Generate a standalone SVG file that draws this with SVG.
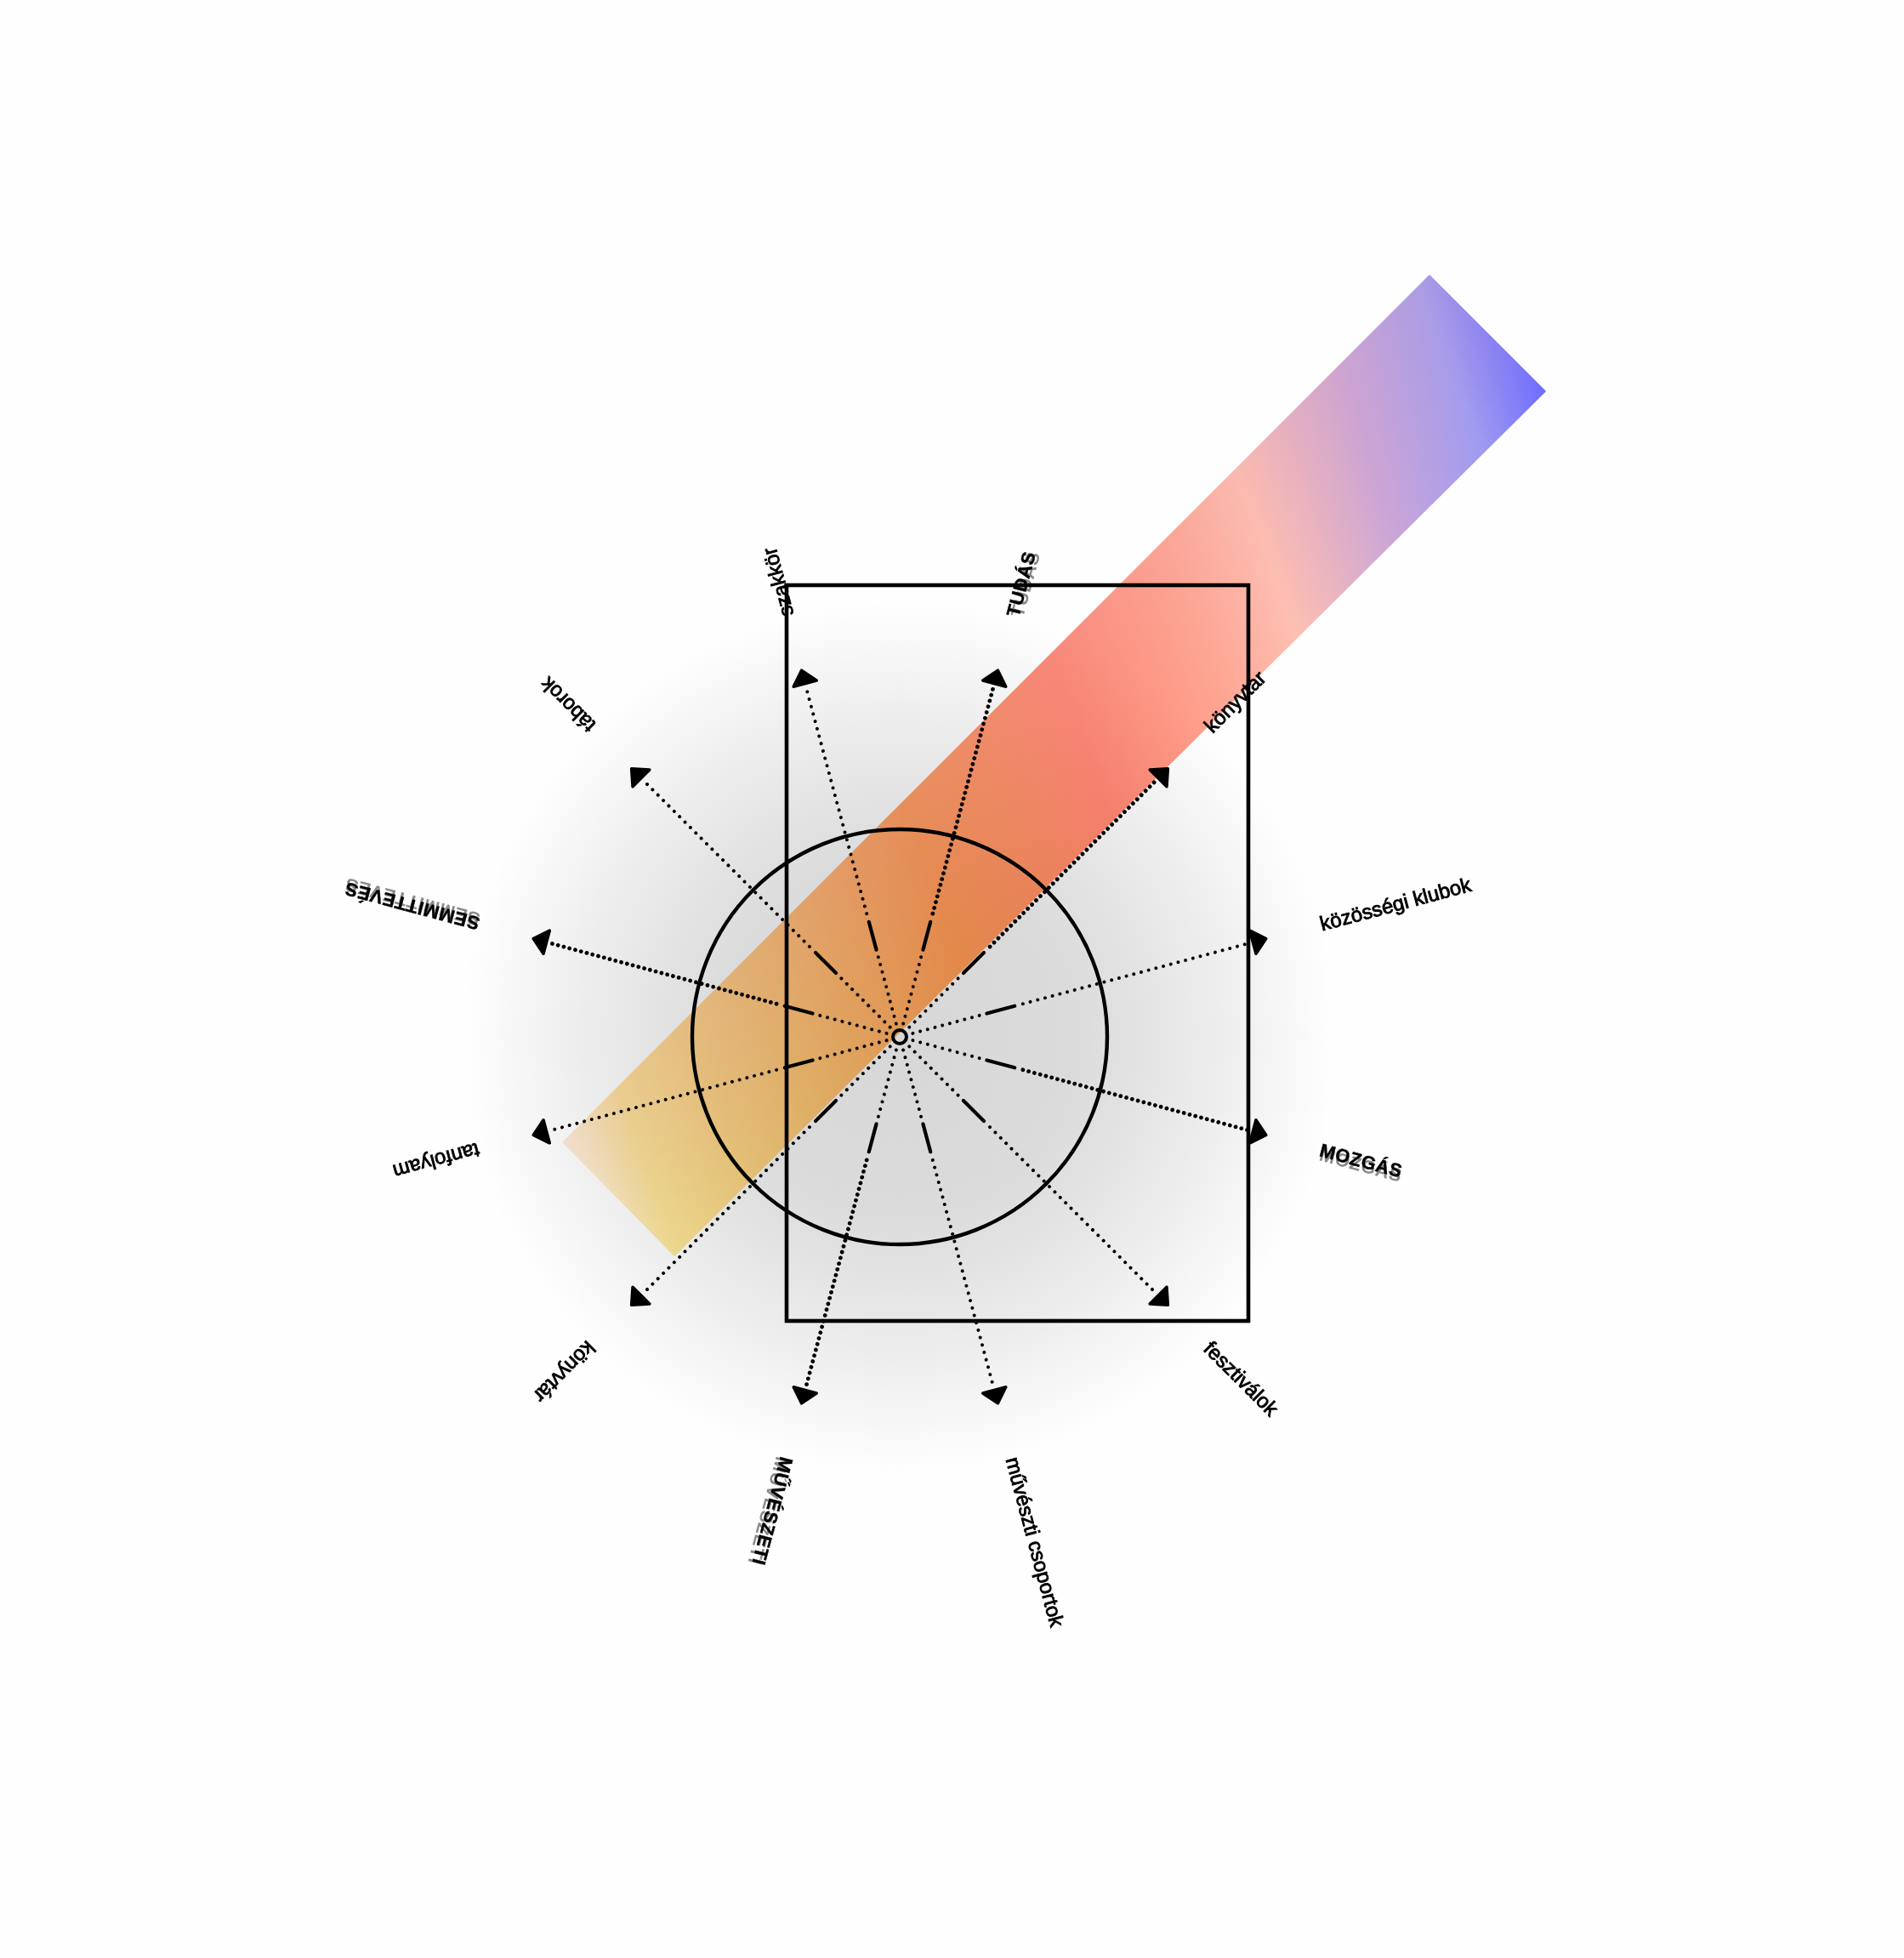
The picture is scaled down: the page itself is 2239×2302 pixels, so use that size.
<svg xmlns="http://www.w3.org/2000/svg" width="2239" height="2302" viewBox="0 0 2239 2302">
<style>
.dot{fill:none;stroke:#000;stroke-width:4;stroke-linecap:round;stroke-dasharray:0 9}
.dotb{stroke-width:4.8;stroke-dasharray:0 7}
.dash{stroke:#000;stroke-width:4.2;stroke-linecap:round}
.head{fill:#000;stroke:#000;stroke-width:3.5;stroke-linejoin:round}
.lbl{font-family:"Liberation Sans",Arial,sans-serif;font-size:24px;fill:#000;stroke:#000;stroke-width:0.9}
.cat{font-weight:bold;font-size:22px;letter-spacing:0.5px;stroke-width:0.4}
.sh{fill:#000;stroke:none;opacity:0.45}
.frame{fill:none;stroke:#000;stroke-width:4.6}
</style>
<defs>
<radialGradient id="bg" cx="1058" cy="1219" r="520" gradientUnits="userSpaceOnUse">
<stop offset="0" stop-color="#d7d7d7"/>
<stop offset="0.4" stop-color="#dbdbdb"/>
<stop offset="0.7" stop-color="#ececec"/>
<stop offset="1" stop-color="#ffffff"/>
</radialGradient>
<linearGradient id="band" gradientUnits="userSpaceOnUse" x1="661" y1="1343" x2="1968" y2="868">
<stop offset="0" stop-color="#f8f2e0"/>
<stop offset="0.06" stop-color="#f5df90"/>
<stop offset="0.22" stop-color="#f0b96a"/>
<stop offset="0.37" stop-color="#f5934f"/>
<stop offset="0.53" stop-color="#fe8470"/>
<stop offset="0.65" stop-color="#ffa592"/>
<stop offset="0.73" stop-color="#ffc0b2"/>
<stop offset="0.84" stop-color="#c9a5d9"/>
<stop offset="0.93" stop-color="#a09cf2"/>
<stop offset="1" stop-color="#6c6cff"/>
</linearGradient>
<linearGradient id="bandtint" gradientUnits="userSpaceOnUse" x1="1235" y1="1042" x2="1099" y2="905">
<stop offset="0" stop-color="#f4a0a0" stop-opacity="0"/>
<stop offset="1" stop-color="#e8a0a8" stop-opacity="0.18"/>
</linearGradient>
<polygon id="bandpoly" points="661,1343 1681,323 1818,460 793,1477"/>
</defs>
<rect x="0" y="0" width="2239" height="2302" fill="#fefefe"/>
<circle id="halo" cx="1058" cy="1219" r="520" fill="url(#bg)"/>
<g id="band-shape">
<use href="#bandpoly" fill="url(#band)" style="mix-blend-mode:multiply"/>
<use href="#bandpoly" fill="url(#band)" opacity="0.5"/>
<use href="#bandpoly" fill="url(#bandtint)"/>
</g>
<g id="frame">
<rect x="925" y="688" width="543" height="865" class="frame"/>
</g>
<g id="ring">
<circle cx="1058" cy="1219" r="244" fill="none" stroke="#000" stroke-width="4.4"/>
</g>
<g id="hub">
<circle cx="1058" cy="1219" r="8" fill="none" stroke="#000" stroke-width="4"/>
</g>
<g id="connectors">
<g transform="translate(1058 1219) rotate(-105)"><line class="dot" x1="16" y1="0" x2="100" y2="0"/><line class="dash" x1="106" y1="0" x2="140" y2="0"/><line class="dot" x1="150" y1="0" x2="428" y2="0"/><polygon class="head" points="430,-14 446,0 430,14"/></g>
<g transform="translate(1058 1219) rotate(-75)"><line class="dot" x1="16" y1="0" x2="100" y2="0"/><line class="dash" x1="106" y1="0" x2="140" y2="0"/><line class="dot dotb" x1="150" y1="0" x2="428" y2="0"/><polygon class="head" points="430,-14 446,0 430,14"/></g>
<g transform="translate(1058 1219) rotate(-45)"><line class="dot" x1="16" y1="0" x2="100" y2="0"/><line class="dash" x1="106" y1="0" x2="140" y2="0"/><line class="dot dotb" x1="150" y1="0" x2="428" y2="0"/><polygon class="head" points="430,-14 446,0 430,14"/></g>
<g transform="translate(1058 1219) rotate(-15)"><line class="dot" x1="16" y1="0" x2="100" y2="0"/><line class="dash" x1="106" y1="0" x2="140" y2="0"/><line class="dot" x1="150" y1="0" x2="428" y2="0"/><polygon class="head" points="430,-14 446,0 430,14"/></g>
<g transform="translate(1058 1219) rotate(15)"><line class="dot" x1="16" y1="0" x2="100" y2="0"/><line class="dash" x1="106" y1="0" x2="140" y2="0"/><line class="dot dotb" x1="150" y1="0" x2="428" y2="0"/><polygon class="head" points="430,-14 446,0 430,14"/></g>
<g transform="translate(1058 1219) rotate(45)"><line class="dot" x1="16" y1="0" x2="100" y2="0"/><line class="dash" x1="106" y1="0" x2="140" y2="0"/><line class="dot" x1="150" y1="0" x2="428" y2="0"/><polygon class="head" points="430,-14 446,0 430,14"/></g>
<g transform="translate(1058 1219) rotate(75)"><line class="dot" x1="16" y1="0" x2="100" y2="0"/><line class="dash" x1="106" y1="0" x2="140" y2="0"/><line class="dot" x1="150" y1="0" x2="428" y2="0"/><polygon class="head" points="430,-14 446,0 430,14"/></g>
<g transform="translate(1058 1219) rotate(105)"><line class="dot" x1="16" y1="0" x2="100" y2="0"/><line class="dash" x1="106" y1="0" x2="140" y2="0"/><line class="dot dotb" x1="150" y1="0" x2="428" y2="0"/><polygon class="head" points="430,-14 446,0 430,14"/></g>
<g transform="translate(1058 1219) rotate(135)"><line class="dot" x1="16" y1="0" x2="100" y2="0"/><line class="dash" x1="106" y1="0" x2="140" y2="0"/><line class="dot" x1="150" y1="0" x2="428" y2="0"/><polygon class="head" points="430,-14 446,0 430,14"/></g>
<g transform="translate(1058 1219) rotate(165)"><line class="dot" x1="16" y1="0" x2="100" y2="0"/><line class="dash" x1="106" y1="0" x2="140" y2="0"/><line class="dot" x1="150" y1="0" x2="428" y2="0"/><polygon class="head" points="430,-14 446,0 430,14"/></g>
<g transform="translate(1058 1219) rotate(195)"><line class="dot" x1="16" y1="0" x2="100" y2="0"/><line class="dash" x1="106" y1="0" x2="140" y2="0"/><line class="dot dotb" x1="150" y1="0" x2="428" y2="0"/><polygon class="head" points="430,-14 446,0 430,14"/></g>
<g transform="translate(1058 1219) rotate(225)"><line class="dot" x1="16" y1="0" x2="100" y2="0"/><line class="dash" x1="106" y1="0" x2="140" y2="0"/><line class="dot" x1="150" y1="0" x2="428" y2="0"/><polygon class="head" points="430,-14 446,0 430,14"/></g>
</g>
<g id="label-szakkor" transform="translate(1058 1219) rotate(-105)"><text class="lbl" x="512" y="0" dy="0.35em">szakkör</text></g>
<g id="label-tudas" transform="translate(1058 1219) rotate(-75)"><text class="lbl cat sh" x="513" y="5" dy="0.35em">TUDÁS</text><text class="lbl cat" x="512" y="0" dy="0.35em">TUDÁS</text></g>
<g id="label-konyvtar-1" transform="translate(1058 1219) rotate(-45)"><text class="lbl" x="512" y="0" dy="0.35em">könyvtár</text></g>
<g id="label-kozossegi" transform="translate(1058 1219) rotate(-15)"><text class="lbl" x="512" y="0" dy="0.35em">közösségi klubok</text></g>
<g id="label-mozgas" transform="translate(1058 1219) rotate(15)"><text class="lbl cat sh" x="513" y="5" dy="0.35em">MOZGÁS</text><text class="lbl cat" x="512" y="0" dy="0.35em">MOZGÁS</text></g>
<g id="label-fesztivalok" transform="translate(1058 1219) rotate(45)"><text class="lbl" x="512" y="0" dy="0.35em">fesztiválok</text></g>
<g id="label-muveszti" transform="translate(1058 1219) rotate(75)"><text class="lbl" x="512" y="0" dy="0.35em">művészti csoportok</text></g>
<g id="label-muveszeti" transform="translate(1058 1219) rotate(105)"><text class="lbl cat sh" x="513" y="5" dy="0.35em">MŰVÉSZETI</text><text class="lbl cat" x="512" y="0" dy="0.35em">MŰVÉSZETI</text></g>
<g id="label-konyvtar-2" transform="translate(1058 1219) rotate(135)"><text class="lbl" x="512" y="0" dy="0.35em">könyvtár</text></g>
<g id="label-tanfolyam" transform="translate(1058 1219) rotate(165)"><text class="lbl" x="512" y="0" dy="0.35em">tanfolyam</text></g>
<g id="label-semmitteves" transform="translate(1058 1219) rotate(195)"><text class="lbl cat sh" x="513" y="5" dy="0.35em">SEMMITTEVÉS</text><text class="lbl cat" x="512" y="0" dy="0.35em">SEMMITTEVÉS</text></g>
<g id="label-taborok" transform="translate(1058 1219) rotate(225)"><text class="lbl" x="512" y="0" dy="0.35em">táborok</text></g>
</svg>
